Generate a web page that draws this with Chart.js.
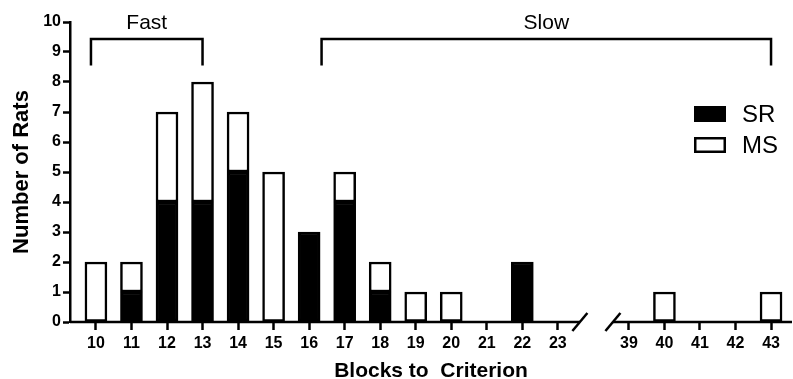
<!DOCTYPE html>
<html lang="en">
<head>
    <meta charset="UTF-8">
    <title>Blocks to Criterion</title>
    <style>
        body { margin: 0; padding: 0; background: #fff; overflow: hidden; }
        canvas { display: block; }
    </style>
</head>
<body>
    <canvas id="chart" width="793" height="379"></canvas>

    <script src="https://cdn.jsdelivr.net/npm/chart.js"></script>
    <script>
        // categories (blocks to criterion), the axis is broken after 23
        var blocks = ['10', '11', '12', '13', '14', '15', '16', '17', '18', '19', '20', '21', '22', '23', '39', '40', '41', '42', '43'];
        var breakAfter = '23';
        var srCounts = [0, 1, 4, 4, 5, 0, 3, 4, 1, 0, 0, 0, 2, 0, 0, 0, 0, 0, 0];
        var msCounts = [2, 1, 3, 4, 2, 5, 0, 1, 1, 1, 1, 0, 0, 0, 0, 1, 0, 0, 1];
        var yTicks = [0, 1, 2, 3, 4, 5, 6, 7, 8, 9, 10];

        var FONT = 'Arial, "Liberation Sans", sans-serif';

        // slot on the x axis: one empty slot for the break
        var breakIdx = blocks.indexOf(breakAfter);
        function slot(i) { return i > breakIdx ? i + 1 : i; }
        var slots = blocks.map(function (b, i) { return slot(i); });
        var labelAt = {};
        blocks.forEach(function (b, i) { labelAt[slot(i)] = b; });

        function toPoints(arr) {
            return arr.map(function (v, i) { return { x: slot(i), y: v === 0 ? null : v }; });
        }

        var extras = {
            id: 'extras',
            afterDraw: function (chart) {
                var c = chart.ctx, xs = chart.scales.x, ys = chart.scales.y, a = chart.chartArea;
                c.save();
                c.strokeStyle = '#000';
                c.fillStyle = '#000';
                c.lineWidth = 2.5;

                // x axis line, broken
                var y0 = ys.getPixelForValue(0);
                var gapL = xs.getPixelForValue(breakIdx + 0.62);
                var gapR = xs.getPixelForValue(breakIdx + 1.55);
                c.beginPath();
                c.moveTo(a.left, y0); c.lineTo(gapL, y0);
                c.moveTo(gapR, y0); c.lineTo(a.right, y0);
                c.stroke();
                [gapL, gapR].forEach(function (gx) {
                    c.beginPath();
                    c.moveTo(gx - 7.5, y0 + 9);
                    c.lineTo(gx + 7.5, y0 - 9);
                    c.stroke();
                });

                // brackets
                function bracket(x1, x2, label) {
                    var px1 = xs.getPixelForValue(x1), px2 = xs.getPixelForValue(x2);
                    var top = ys.getPixelForValue(9.43), bot = ys.getPixelForValue(8.55);
                    c.beginPath();
                    c.moveTo(px1, bot); c.lineTo(px1, top); c.lineTo(px2, top); c.lineTo(px2, bot);
                    c.stroke();
                    c.font = '21px ' + FONT;
                    c.textAlign = 'center';
                    c.textBaseline = 'middle';
                    c.fillText(label, (px1 + px2) / 2, ys.getPixelForValue(9.95));
                }
                bracket(-0.14, 3, 'Fast');
                bracket(6.35, 19, 'Slow');

                // legend
                var lx = 694, ly = 106;
                chart.data.datasets.forEach(function (ds, k) {
                    var by = ly + k * 31;
                    c.fillStyle = ds.backgroundColor;
                    c.fillRect(lx, by, 32, 16);
                    c.strokeRect(lx + 1.25, by + 1.25, 29.5, 13.5);
                    c.fillStyle = '#000';
                    c.font = '24px ' + FONT;
                    c.textAlign = 'left';
                    c.textBaseline = 'middle';
                    c.fillText(ds.label, 742, by + 9);
                });
                c.restore();
            }
        };

        var ctx = document.getElementById('chart').getContext('2d');
        new Chart(ctx, {
            type: 'bar',
            data: {
                datasets: [
                    {
                        label: 'SR',
                        data: toPoints(srCounts),
                        backgroundColor: '#000',
                        borderColor: '#000',
                        borderWidth: 2.5,
                        borderSkipped: false,
                        barThickness: 22
                    },
                    {
                        label: 'MS',
                        data: toPoints(msCounts),
                        backgroundColor: '#fff',
                        borderColor: '#000',
                        borderWidth: 2.5,
                        borderSkipped: false,
                        barThickness: 22
                    }
                ]
            },
            options: {
                responsive: false,
                animation: false,
                layout: { padding: { top: 22, right: 1, left: 0, bottom: 0 } },
                plugins: { legend: { display: false }, tooltip: { enabled: false } },
                scales: {
                    x: {
                        type: 'linear',
                        stacked: true,
                        offset: false,
                        min: -0.73,
                        max: 19.59,
                        afterFit: function (s) { s.height = 57; },
                        afterBuildTicks: function (s) {
                            s.ticks = slots.map(function (v) { return { value: v }; });
                        },
                        ticks: {
                            autoSkip: false,
                            maxRotation: 0,
                            padding: 4,
                            color: '#000',
                            font: { family: FONT, size: 16, weight: 'bold' },
                            callback: function (v) { return labelAt[v] || ''; }
                        },
                        grid: {
                            offset: false,
                            drawOnChartArea: false,
                            tickLength: 8,
                            tickWidth: 2.5,
                            color: '#000'
                        },
                        border: { display: false },
                        title: {
                            display: true,
                            text: 'Blocks to  Criterion',
                            color: '#000',
                            font: { family: FONT, size: 21, weight: 'bold' },
                            padding: { top: 0, bottom: -5 }
                        }
                    },
                    y: {
                        stacked: true,
                        min: 0,
                        max: 10,
                        afterFit: function (s) { s.width = 70; },
                        afterBuildTicks: function (s) {
                            s.ticks = yTicks.map(function (v) { return { value: v }; });
                        },
                        ticks: {
                            padding: 2,
                            color: '#000',
                            font: { family: FONT, size: 16, weight: 'bold' }
                        },
                        grid: {
                            drawOnChartArea: false,
                            tickLength: 7,
                            tickWidth: 2.5,
                            color: '#000'
                        },
                        border: { display: true, color: '#000', width: 2.5 },
                        title: {
                            display: true,
                            text: 'Number of Rats',
                            color: '#000',
                            font: { family: FONT, size: 22, weight: 'bold' },
                            padding: { top: 9, bottom: 0 }
                        }
                    }
                }
            },
            plugins: [extras]
        });
    </script>
</body>
</html>
